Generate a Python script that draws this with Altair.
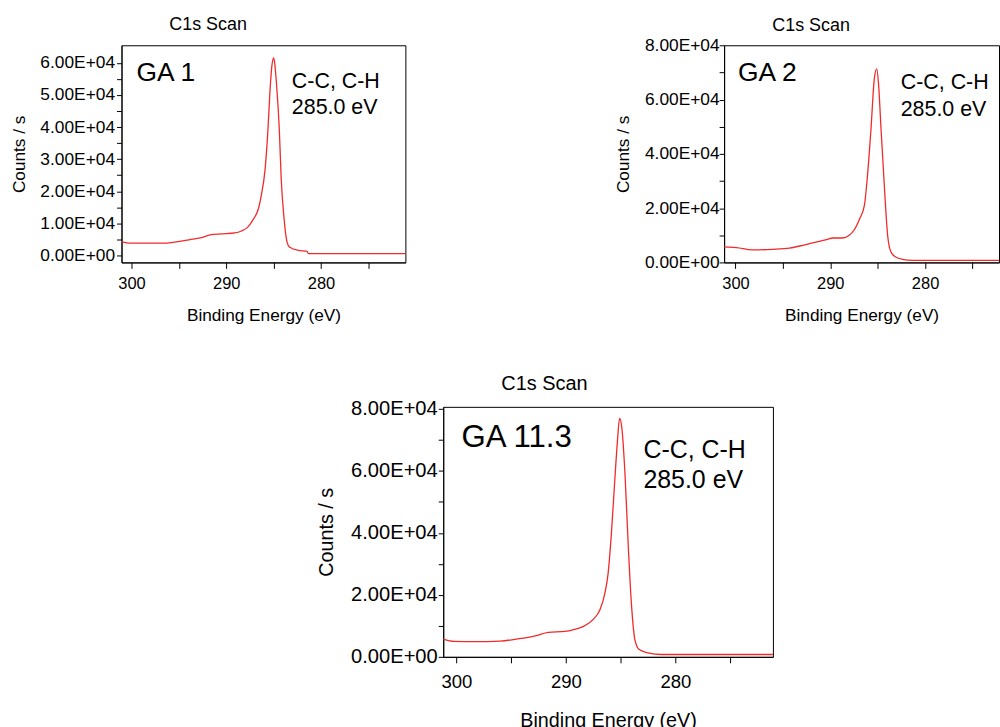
import altair as alt
import pandas as pd

FONT = "Liberation Sans"
RED = "#f22a2a"

# ---------------- data ----------------
be_1 = [301.1, 300.0, 296.5, 295.1, 293.7, 292.6, 291.7, 290.5, 289.1, 288.4, 287.7, 287.2,
        286.6, 286.3, 285.9, 285.6, 285.4, 285.2, 285.0, 284.9, 284.7, 284.4, 284.2, 283.9,
        283.6, 283.3, 282.4, 281.5, 281.3, 270.9]
counts_1 = [4300, 3800, 3800, 4300, 5000, 5500, 6400, 6700, 7000, 7600, 8900, 11000,
            14600, 18700, 26900, 39200, 50500, 58700, 61600, 60200, 53600, 39200, 23800, 11500,
            4300, 2500, 1540, 1300, 510, 510]

be_2 = [301.3, 299.9, 298.2, 296.1, 294.3, 292.9, 291.5, 290.4, 289.7, 288.7, 288.0, 287.5,
        286.9, 286.4, 286.1, 285.7, 285.35, 285.1, 284.9, 284.65, 284.3, 283.95, 283.6, 283.1,
        282.4, 281.3, 272.0]
counts_2 = [5700, 5450, 4600, 4830, 5300, 6300, 7500, 8400, 9000, 9000, 10000, 11850,
            16100, 21000, 30900, 49400, 67800, 71300, 65400, 49400, 28400, 10000, 3850, 2000,
            1150, 780, 780]

be_3 = [301.2, 300.2, 298.3, 296.0, 294.3, 292.8, 291.6, 290.1, 289.2, 288.3, 287.5, 286.9,
        286.45, 286.15, 285.85, 285.6, 285.3, 285.1, 284.9, 284.6, 284.3, 284.0, 283.7, 283.3,
        282.5, 281.3, 271.1]
counts_3 = [5750, 5000, 4900, 5100, 5850, 6800, 7900, 8200, 8900, 10000, 12100, 15100,
            20400, 26800, 39600, 53400, 69400, 77000, 74200, 58700, 35300, 16200, 5500, 2340,
            1280, 750, 750]

sample_labels = ["GA 1", "GA 2", "GA 11.3"]
peak_label = "C-C, C-H\n285.0 eV"
panel_title = "C1s Scan"
x_title = "Binding Energy (eV)"
y_title = "Counts / s"
x_ticks = [300, 295, 290, 285, 280, 275]

LABEL_EXPR = ("datum.value == 0 ? '0.00E+00' : "
              "format(datum.value / pow(10, floor(log(datum.value) / LN10 + 1e-9)), '.2f') + 'E+0' + "
              "floor(log(datum.value) / LN10 + 1e-9)")


def panel(be, counts, name, xdom, ydom, yticks, ylabel_step, w, h, s):
    df = pd.DataFrame({"be": be, "counts": counts})
    xaxis = alt.Axis(values=x_ticks, labelExpr="datum.value % 10 == 0 ? datum.label : ''",
                     title=x_title, grid=False, domainColor="black", tickColor="black",
                     tickSize=6, labelPadding=s["xlp"], labelFont=FONT, labelFontSize=s["xl"],
                     labelColor="black", titleFont=FONT, titleFontSize=s["t"], titleFontWeight="normal",
                     titleColor="black", titlePadding=s["xtp"], labelFlush=False)
    yaxis = alt.Axis(values=yticks,
                     labelExpr="datum.value % " + str(ylabel_step) + " == 0 ? (" + LABEL_EXPR + ") : ''",
                     title=y_title, grid=False, domainColor="black", tickColor="black",
                     tickSize=5, labelPadding=s["ylp"], labelFont=FONT, labelFontSize=s["yl"],
                     labelColor="black", titleFont=FONT, titleFontSize=s["t"], titleFontWeight="normal",
                     titleColor="black", titlePadding=s["ytp"], labelFlush=False)
    line = alt.Chart(df).mark_line(color=RED, strokeWidth=1.3, clip=True, interpolate="monotone").encode(
        x=alt.X("be:Q", scale=alt.Scale(domain=xdom, reverse=True, nice=False, zero=False), axis=xaxis),
        y=alt.Y("counts:Q", scale=alt.Scale(domain=ydom, nice=False, zero=False), axis=yaxis),
    )
    lab = alt.Chart(pd.DataFrame({"t": [name]})).mark_text(
        align="left", baseline="alphabetic", font=FONT, fontSize=s["ga"], color="black").encode(
        text="t:N", x=alt.value(s["gax"]), y=alt.value(s["gay"]))
    pk = alt.Chart(pd.DataFrame({"t": [peak_label]})).mark_text(
        align="left", baseline="alphabetic", font=FONT, fontSize=s["pk"], color="black",
        lineBreak="\n", lineHeight=s["pkd"]).encode(
        text="t:N", x=alt.value(s["pkx"]), y=alt.value(s["pky"]))
    return alt.layer(line, lab, pk).properties(
        width=w, height=h,
        title=alt.TitleParams(panel_title, font=FONT, fontSize=s["title"], fontWeight="normal",
                              color="black", offset=s["toff"], anchor="middle", frame="group",
                              dx=s["tdx"]),
    )


s1 = dict(xl=16.5, yl=17.4, t=17.3, xlp=7, xtp=15, ylp=2, ytp=11, ga=26.5, gax=15, gay=36,
          pk=21.5, pkx=171, pky=43.3, pkd=26, title=18, toff=11, tdx=-55.6)
s2 = dict(s1, ylp=0, ytp=12.3, gax=14, gay=36, pkx=177.3, pky=44.3, pkd=26.7, tdx=-50.7, toff=1)
s3 = dict(xl=18.6, yl=20.2, t=19.8, xlp=10, xtp=19, ylp=1, ytp=14, ga=31.3, gax=18.4, gay=40.7,
          pk=25, pkx=201, pky=51.4, pkd=30.3, title=20, toff=5, tdx=-63.8)

p1 = panel(be_1, counts_1, sample_labels[0], [271.1, 301.05], [-2200, 65500],
           list(range(0, 65000, 5000)), 10000, 285, 218, s1)
p2 = panel(be_2, counts_2, sample_labels[1], [272.2, 301.2], [0, 80000],
           list(range(0, 90000, 10000)), 20000, 276, 218, s2)
p3 = panel(be_3, counts_3, sample_labels[2], [271.1, 301.2], [0, 80700],
           list(range(0, 90000, 10000)), 20000, 331, 251, s3)

spacer = alt.Chart(pd.DataFrame({"a": [0]})).mark_point(opacity=0).encode(
    x=alt.X("a:Q", axis=None), y=alt.Y("a:Q", axis=None)
).properties(width=184.5, height=10, view=alt.ViewBackground(stroke="transparent"))

top = alt.hconcat(p1, p2, spacing=208)
bottom = alt.hconcat(spacer, p3, spacing=10)
chart = alt.vconcat(top, bottom, spacing=48).properties(
    padding={"left": 10, "top": 14, "right": 0, "bottom": 0}, background="white"
).configure_view(stroke="black", strokeWidth=1)

chart.save("out.html", embed_options={"renderer": "svg", "actions": False})
